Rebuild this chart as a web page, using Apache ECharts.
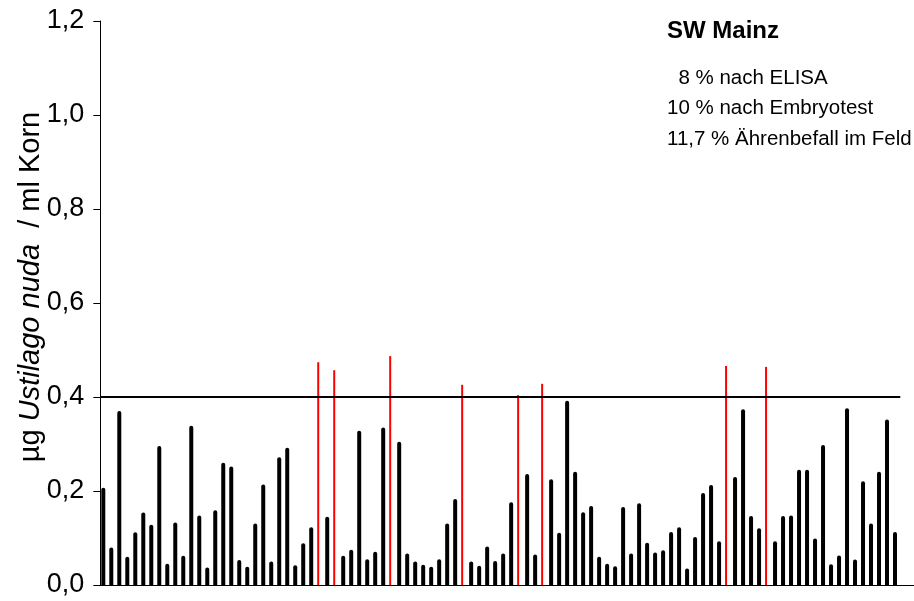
<!DOCTYPE html>
<html>
<head>
<meta charset="utf-8">
<script src="https://cdn.jsdelivr.net/npm/echarts@6/dist/echarts.min.js"></script>
<style>
  html, body { margin: 0; padding: 0; background: #fff; }
  #chart { width: 914px; height: 601px; }
</style>
</head>
<body>
<div id="chart"></div>
<script>
// Messwerte je Probe (µg Ustilago nuda / ml Korn)
const values = [
  0.207, 0.080, 0.370, 0.060, 0.112, 0.154, 0.128, 0.296, 0.045, 0.133,
  0.062, 0.339, 0.148, 0.037, 0.159, 0.260, 0.252, 0.053, 0.039, 0.131,
  0.214, 0.050, 0.272, 0.292, 0.042, 0.089, 0.123, 0.474, 0.145, 0.457,
  0.062, 0.075, 0.328, 0.055, 0.071, 0.335, 0.487, 0.305, 0.067, 0.050,
  0.043, 0.039, 0.055, 0.131, 0.183, 0.426, 0.050, 0.041, 0.082, 0.051,
  0.067, 0.176, 0.404, 0.236, 0.065, 0.428, 0.225, 0.111, 0.392, 0.241,
  0.155, 0.168, 0.060, 0.045, 0.040, 0.166, 0.067, 0.174, 0.090, 0.069,
  0.074, 0.113, 0.123, 0.035, 0.102, 0.196, 0.213, 0.093, 0.466, 0.230,
  0.374, 0.147, 0.121, 0.464, 0.093, 0.147, 0.148, 0.245, 0.245, 0.099,
  0.298, 0.044, 0.063, 0.376, 0.054, 0.221, 0.131, 0.241, 0.352, 0.113
]
const threshold = 0.4
const yTicks = ['0,0', '0,2', '0,4', '0,6', '0,8', '1,0', '1,2']
const titleText = 'SW Mainz'
const notes = ['  8 % nach ELISA', '10 % nach Embryotest', '11,7 % Ährenbefall im Feld']

// Probennummern, plus zwei leere Plaetze rechts (Achse laeuft weiter)
const categories = values.map((v, i) => String(i + 1)).concat(['', ''])

const blackData = values.map(v => (v > threshold ? null : v))
const redData = values.map(v => (v > threshold ? v : null))

const font = '"Liberation Sans", Arial, sans-serif'

let chart = echarts.init(document.getElementById('chart'))
let option = {
  animation: false,
  title: {
    text: titleText,
    subtext: notes.join('\n'),
    left: 662,
    top: 14,
    itemGap: 20,
    textStyle: {
      fontFamily: font,
      fontWeight: 'bold',
      fontSize: 24,
      color: '#000',
    },
    subtextStyle: {
      fontFamily: font,
      fontSize: 20.5,
      lineHeight: 30.5,
      color: '#000',
    },
  },
  grid: {
    left: 98.3,
    right: 0,
    top: 21,
    bottom: 16,
  },
  xAxis: {
    type: 'category',
    data: categories,
    boundaryGap: true,
    axisLine: {
      lineStyle: { color: '#000', width: 1 },
    },
    axisTick: { show: false },
    axisLabel: { show: false },
    splitLine: { show: false },
  },
  yAxis: {
    type: 'value',
    min: 0,
    max: 1.2,
    interval: 0.2,
    offset: -2,
    name: '{n|µg }{i|Ustilago nuda}{n|  / ml Korn}',
    nameLocation: 'middle',
    nameRotate: 90,
    nameGap: 55,
    nameMoveOverlap: false,
    nameTextStyle: {
      padding: [0, 0, 0, 32],
      rich: {
        n: { fontFamily: font, fontSize: 29, color: '#000' },
        i: { fontFamily: font, fontSize: 29, fontStyle: 'italic', color: '#000' },
      },
    },
    axisLine: {
      show: true,
      lineStyle: { color: '#000', width: 1 },
    },
    axisTick: {
      show: true,
      length: 7,
      lineStyle: { color: '#000' },
    },
    axisLabel: {
      margin: 16,
      fontFamily: font,
      fontSize: 27,
      color: '#000',
      formatter: (val) => yTicks[Math.round(val / 0.2)],
    },
    splitLine: { show: false },
  },
  series: [
    {
      name: 'unter Grenzwert',
      type: 'bar',
      data: blackData,
      barWidth: 4,
      barGap: '-100%',
      itemStyle: { color: '#000', borderRadius: [2, 2, 0, 0] },
      markLine: {
        symbol: 'none',
        silent: true,
        label: { show: false },
        lineStyle: { color: '#000', width: 2, type: 'solid' },
        data: [[
          { coord: [0, threshold], x: 100.3 },
          { coord: [values.length - 1, threshold], x: 900.3 },
        ]],
      },
    },
    {
      name: 'ueber Grenzwert',
      type: 'bar',
      data: redData,
      barWidth: 2,
      barGap: '-100%',
      itemStyle: { color: '#ff0000' },
    },
  ],
}
chart.setOption(option)
</script>
</body>
</html>
